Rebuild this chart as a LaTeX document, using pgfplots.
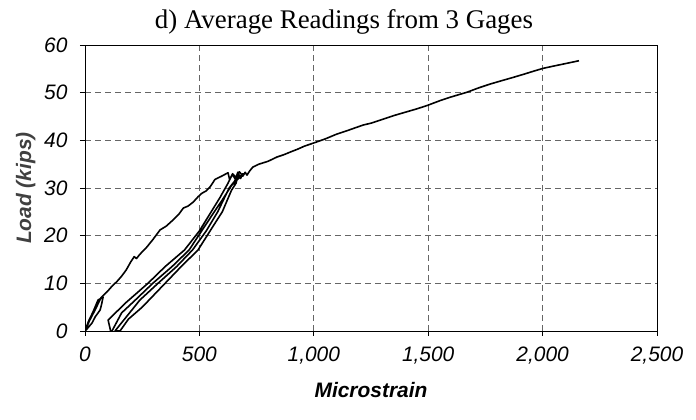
\documentclass[border=0pt]{standalone}
\usepackage{pgfplots}
\pgfplotsset{compat=1.18}
\usepackage{fontspec}
\setmainfont{Liberation Sans}
\newfontfamily\timesfont{Liberation Serif}
\begin{document}
\begin{tikzpicture}
\useasboundingbox (0,0) rectangle (696bp,420bp);
\begin{axis}[
 at={(85bp,89bp)}, anchor=south west,
 scale only axis, width=572bp, height=286bp,
 xmin=0,xmax=2500,ymin=0,ymax=60,
 xtick={0,500,...,2500}, ytick={0,10,...,60},
 grid=major, major grid style={black!60, dash pattern=on 6bp off 4bp, line width=0.8bp},
 axis line style={black, line width=0.9bp},
 tick pos=left, tick align=outside, major tick length=5bp,
 tick style={black, line width=0.8bp},
 /pgf/number format/assume math mode=true,
 /pgf/number format/1000 sep={,},
 tick label style={font=\fontsize{21}{25}\selectfont\itshape},
 xticklabel style={yshift=-7bp},
 yticklabel style={xshift=-9bp},
 xlabel={Microstrain}, ylabel={Load (kips)},
 label style={font=\fontsize{21}{25}\selectfont\bfseries\itshape},
 xlabel style={yshift=-12bp},
 ylabel style={text=black!75, yshift=2bp},
]
\addplot[black, line width=1.6bp, line join=round] coordinates {
(0,0) (15,2) (35,4) (57,6.5) (79,7.1) (72,5.5) (66,4.4) (45,3) (31,1.7) (10,0.5) (0,0)
(20,2.2) (45,4.5) (70,7) (96,8.2) (120,9.5) (140,10.4) (160,11.5) (180,12.8) (200,14.5) (215,15.6) (225,15.2) (240,16.1) (270,17.6) (297,19.2) (328,21.2) (355,22) (385,23.3) (410,24.5) (430,25.8) (450,26.2) (472,27) (495,28.2) (511,28.9) (530,29.4) (546,30.2) (560,31.2) (568,31.8) (598,32.5) (625,33.2) (632,31.8) (645,32.8) (655,32)
(670,32.8) (660,31) (640,29.5) (600,25) (560,22) (494,17) (420,13.5) (350,10) (250,5) (190,2.5) (153,0)
(131,0)
(240,6.5) (319,10) (400,13.5) (470,17) (530,21) (580,25) (630,30) (655,31.5) (668,33.3) (680,32) (690,33)
(675,32.2) (640,30.5) (600,27.5) (565,25) (510,21) (455,17) (380,13.5) (296,10) (220,6.5) (160,3.8) (118,0)
(112,0) (101,2.3)
(180,6) (275,10) (350,13.5) (435,17) (500,21) (545,24.5) (590,28) (625,31) (645,33) (660,32.2) (675,33.4) (690,32.5) (700,33.3) (708,32.7)
(720,33.6) (734,34.4) (760,35) (800,35.6) (839,36.5) (870,37) (900,37.6) (927,38.1) (960,38.8) (997,39.4) (1050,40.3) (1100,41.3) (1150,42.1) (1215,43.2) (1250,43.6) (1300,44.4) (1350,45.2) (1400,45.9) (1450,46.6) (1495,47.3) (1550,48.3) (1600,49.1) (1670,50.1) (1720,51) (1770,51.8) (1820,52.5) (1871,53.2) (1920,53.9) (1960,54.5) (2002,55.1) (2050,55.6) (2100,56.1) (2159,56.7)
};
\end{axis}
\node[anchor=base] at (344bp,391bp) {\timesfont\fontsize{27}{32}\selectfont d) Average Readings from 3 Gages};
\end{tikzpicture}
\end{document}
